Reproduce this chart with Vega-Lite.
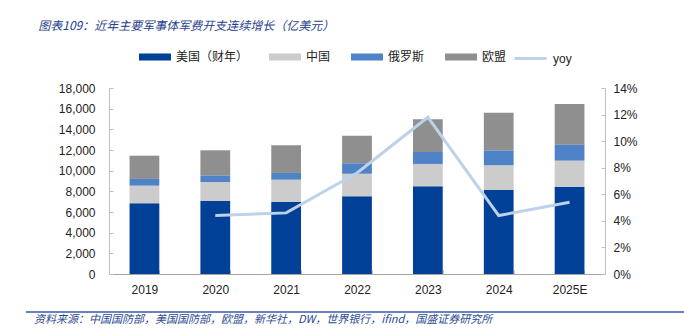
{
  "$schema": "https://vega.github.io/schema/vega-lite/v6.json",
  "background": "white",
  "padding": {"left": 25, "top": 20, "right": 0, "bottom": 0},
  "title": {
    "text": "图表109：近年主要军事体军费开支连续增长（亿美元）",
    "anchor": "start", "frame": "bounds", "dx": 13, "offset": 8,
    "font": "Noto Sans CJK SC", "fontSize": 12, "fontStyle": "italic", "fontWeight": "normal", "color": "#1f3f8f"
  },
  "config": {
    "view": {"stroke": null},
    "axis": {
      "labelFont": "Liberation Sans", "labelFontSize": 12, "labelColor": "#222222",
      "domainColor": "#bfbfbf", "tickColor": "#bfbfbf", "grid": false, "title": null
    }
  },
  "datasets": {
    "bars": [
      {"year": "2019", "country": "美国（财年）", "idx": 1, "value": 6850},
      {"year": "2019", "country": "中国", "idx": 2, "value": 1700},
      {"year": "2019", "country": "俄罗斯", "idx": 3, "value": 650},
      {"year": "2019", "country": "欧盟", "idx": 4, "value": 2250},
      {"year": "2020", "country": "美国（财年）", "idx": 1, "value": 7090},
      {"year": "2020", "country": "中国", "idx": 2, "value": 1810},
      {"year": "2020", "country": "俄罗斯", "idx": 3, "value": 650},
      {"year": "2020", "country": "欧盟", "idx": 4, "value": 2420},
      {"year": "2021", "country": "美国（财年）", "idx": 1, "value": 7000},
      {"year": "2021", "country": "中国", "idx": 2, "value": 2130},
      {"year": "2021", "country": "俄罗斯", "idx": 3, "value": 650},
      {"year": "2021", "country": "欧盟", "idx": 4, "value": 2680},
      {"year": "2022", "country": "美国（财年）", "idx": 1, "value": 7520},
      {"year": "2022", "country": "中国", "idx": 2, "value": 2190},
      {"year": "2022", "country": "俄罗斯", "idx": 3, "value": 1010},
      {"year": "2022", "country": "欧盟", "idx": 4, "value": 2670},
      {"year": "2023", "country": "美国（财年）", "idx": 1, "value": 8490},
      {"year": "2023", "country": "中国", "idx": 2, "value": 2160},
      {"year": "2023", "country": "俄罗斯", "idx": 3, "value": 1160},
      {"year": "2023", "country": "欧盟", "idx": 4, "value": 3160},
      {"year": "2024", "country": "美国（财年）", "idx": 1, "value": 8130},
      {"year": "2024", "country": "中国", "idx": 2, "value": 2390},
      {"year": "2024", "country": "俄罗斯", "idx": 3, "value": 1450},
      {"year": "2024", "country": "欧盟", "idx": 4, "value": 3640},
      {"year": "2025E", "country": "美国（财年）", "idx": 1, "value": 8450},
      {"year": "2025E", "country": "中国", "idx": 2, "value": 2520},
      {"year": "2025E", "country": "俄罗斯", "idx": 3, "value": 1550},
      {"year": "2025E", "country": "欧盟", "idx": 4, "value": 3940}
    ],
    "yoy": [
      {"year": "2020", "yoy": 0.044},
      {"year": "2021", "yoy": 0.046},
      {"year": "2022", "yoy": 0.076},
      {"year": "2023", "yoy": 0.118},
      {"year": "2024", "yoy": 0.044},
      {"year": "2025E", "yoy": 0.054}
    ]
  },
  "vconcat": [
    {
      "hconcat": [
        {
          "width": 1,
          "height": 186,
          "data": {"values": [{}]},
          "mark": {"type": "text"},
          "encoding": {"text": {"value": ""}}
        },
        {
          "width": 496,
          "height": 186,
          "layer": [
            {
              "data": {"name": "bars"},
              "mark": {"type": "bar"},
              "encoding": {
                "x": {
                  "field": "year", "type": "ordinal", "sort": null,
                  "scale": {"paddingInner": 0.58, "paddingOuter": 0.29},
                  "axis": {"labelAngle": 0, "tickBand": "extent", "tickSize": -4, "labelPadding": 14, "domainColor": "#a6a6a6"}
                },
                "y": {
                  "field": "value", "type": "quantitative", "stack": "zero",
                  "scale": {"domain": [0, 18000], "nice": false},
                  "axis": {
                    "values": [0, 2000, 4000, 6000, 8000, 10000, 12000, 14000, 16000, 18000],
                    "format": ",.0f", "tickSize": -4, "labelPadding": 18
                  }
                },
                "color": {
                  "field": "country", "type": "nominal",
                  "scale": {"domain": ["美国（财年）", "中国", "俄罗斯", "欧盟"], "range": ["#004097", "#cccccc", "#4f83c8", "#8f8f8f"]},
                  "legend": {
                    "orient": "none", "legendX": 113, "legendY": -47, "direction": "horizontal", "title": null,
                    "symbolType": "M-1,-0.22H1V0.22H-1Z", "symbolSize": 1024, "symbolStrokeWidth": 0,
                    "labelFont": "Noto Sans CJK SC", "labelFontSize": 12, "labelColor": "#222222",
                    "labelOffset": 5, "columnPadding": 20
                  }
                },
                "order": {"field": "idx", "type": "quantitative"}
              }
            },
            {
              "data": {"name": "yoy"},
              "mark": {"type": "line", "strokeWidth": 3},
              "encoding": {
                "x": {"field": "year", "type": "ordinal", "sort": null},
                "y": {
                  "field": "yoy", "type": "quantitative",
                  "scale": {"domain": [0, 0.14], "nice": false},
                  "axis": {"orient": "right", "values": [0, 0.02, 0.04, 0.06, 0.08, 0.1, 0.12, 0.14], "format": ".0%", "tickSize": -4, "labelPadding": 12}
                },
                "stroke": {
                  "datum": "yoy",
                  "scale": {"domain": ["yoy"], "range": ["#bdd1ea"]},
                  "legend": {
                    "orient": "none", "legendX": 487, "legendY": -47, "direction": "horizontal", "title": null,
                    "symbolType": "stroke", "symbolSize": 1024, "symbolStrokeWidth": 3,
                    "labelFont": "Liberation Sans", "labelFontSize": 12, "labelColor": "#222222", "labelOffset": 5
                  }
                }
              }
            }
          ],
          "resolve": {"scale": {"y": "independent"}}
        }
      ],
      "spacing": 31
    },
    {
      "width": 659,
      "height": 1,
      "title": {
        "text": "资料来源：中国国防部，美国国防部，欧盟，新华社，DW，世界银行，ifind，国盛证券研究所",
        "orient": "bottom", "anchor": "start", "frame": "group", "dx": 8, "offset": 1,
        "font": "Noto Sans CJK SC", "fontSize": 11, "fontStyle": "italic", "fontWeight": "normal", "color": "#2c4b94"
      },
      "data": {"values": [{"a": 0, "b": 1, "c": 1}]},
      "mark": {"type": "rule", "color": "#3a5aa6", "strokeWidth": 1.5},
      "encoding": {
        "x": {"field": "a", "type": "quantitative", "scale": {"domain": [0, 1]}, "axis": null},
        "x2": {"field": "b"},
        "y": {"field": "c", "type": "quantitative", "scale": {"domain": [0, 1]}, "axis": null}
      }
    }
  ],
  "spacing": 16
}
